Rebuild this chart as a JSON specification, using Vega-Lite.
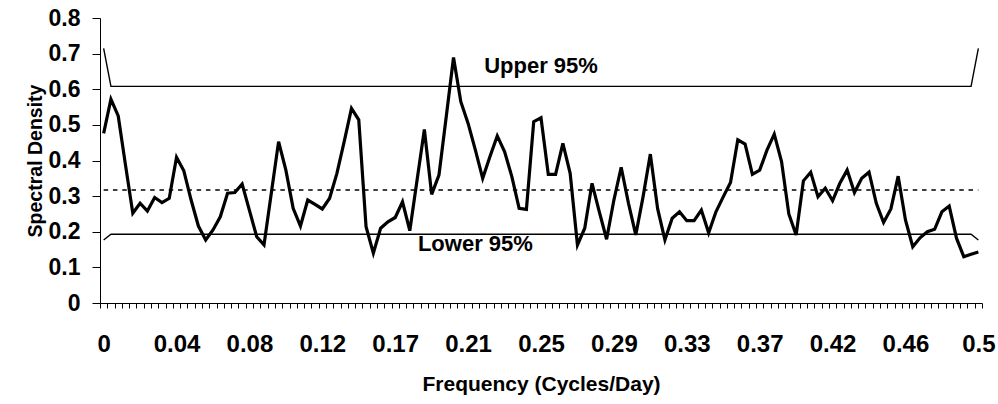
{
  "$schema": "https://vega.github.io/schema/vega-lite/v6.json",
  "width": 882,
  "height": 285,
  "autosize": "none",
  "padding": {"left": 100, "top": 18, "right": 16, "bottom": 101},
  "background": "white",
  "config": {
    "view": {"stroke": null},
    "font": "Liberation Sans"
  },
  "datasets": {
    "spec": [
      {"f": 0, "s": 0.476, "u": 0.715, "l": 0.177, "m": 0.317},
      {"f": 0.00417, "s": 0.572, "u": 0.608, "l": 0.193, "m": 0.317},
      {"f": 0.00833, "s": 0.525, "u": 0.608, "l": 0.193, "m": 0.317},
      {"f": 0.0125, "s": 0.387, "u": 0.608, "l": 0.193, "m": 0.317},
      {"f": 0.01667, "s": 0.252, "u": 0.608, "l": 0.193, "m": 0.317},
      {"f": 0.02083, "s": 0.28, "u": 0.608, "l": 0.193, "m": 0.317},
      {"f": 0.025, "s": 0.258, "u": 0.608, "l": 0.193, "m": 0.317},
      {"f": 0.02917, "s": 0.296, "u": 0.608, "l": 0.193, "m": 0.317},
      {"f": 0.03333, "s": 0.282, "u": 0.608, "l": 0.193, "m": 0.317},
      {"f": 0.0375, "s": 0.294, "u": 0.608, "l": 0.193, "m": 0.317},
      {"f": 0.04167, "s": 0.409, "u": 0.608, "l": 0.193, "m": 0.317},
      {"f": 0.04583, "s": 0.371, "u": 0.608, "l": 0.193, "m": 0.317},
      {"f": 0.05, "s": 0.289, "u": 0.608, "l": 0.193, "m": 0.317},
      {"f": 0.05417, "s": 0.216, "u": 0.608, "l": 0.193, "m": 0.317},
      {"f": 0.05833, "s": 0.177, "u": 0.608, "l": 0.193, "m": 0.317},
      {"f": 0.0625, "s": 0.205, "u": 0.608, "l": 0.193, "m": 0.317},
      {"f": 0.06667, "s": 0.242, "u": 0.608, "l": 0.193, "m": 0.317},
      {"f": 0.07083, "s": 0.308, "u": 0.608, "l": 0.193, "m": 0.317},
      {"f": 0.075, "s": 0.31, "u": 0.608, "l": 0.193, "m": 0.317},
      {"f": 0.07917, "s": 0.334, "u": 0.608, "l": 0.193, "m": 0.317},
      {"f": 0.08333, "s": 0.26, "u": 0.608, "l": 0.193, "m": 0.317},
      {"f": 0.0875, "s": 0.186, "u": 0.608, "l": 0.193, "m": 0.317},
      {"f": 0.09167, "s": 0.163, "u": 0.608, "l": 0.193, "m": 0.317},
      {"f": 0.09583, "s": 0.308, "u": 0.608, "l": 0.193, "m": 0.317},
      {"f": 0.1, "s": 0.453, "u": 0.608, "l": 0.193, "m": 0.317},
      {"f": 0.10417, "s": 0.373, "u": 0.608, "l": 0.193, "m": 0.317},
      {"f": 0.10833, "s": 0.266, "u": 0.608, "l": 0.193, "m": 0.317},
      {"f": 0.1125, "s": 0.216, "u": 0.608, "l": 0.193, "m": 0.317},
      {"f": 0.11667, "s": 0.289, "u": 0.608, "l": 0.193, "m": 0.317},
      {"f": 0.12083, "s": 0.277, "u": 0.608, "l": 0.193, "m": 0.317},
      {"f": 0.125, "s": 0.264, "u": 0.608, "l": 0.193, "m": 0.317},
      {"f": 0.12917, "s": 0.294, "u": 0.608, "l": 0.193, "m": 0.317},
      {"f": 0.13333, "s": 0.364, "u": 0.608, "l": 0.193, "m": 0.317},
      {"f": 0.1375, "s": 0.453, "u": 0.608, "l": 0.193, "m": 0.317},
      {"f": 0.14167, "s": 0.546, "u": 0.608, "l": 0.193, "m": 0.317},
      {"f": 0.14583, "s": 0.514, "u": 0.608, "l": 0.193, "m": 0.317},
      {"f": 0.15, "s": 0.214, "u": 0.608, "l": 0.193, "m": 0.317},
      {"f": 0.15417, "s": 0.14, "u": 0.608, "l": 0.193, "m": 0.317},
      {"f": 0.15833, "s": 0.21, "u": 0.608, "l": 0.193, "m": 0.317},
      {"f": 0.1625, "s": 0.228, "u": 0.608, "l": 0.193, "m": 0.317},
      {"f": 0.16667, "s": 0.24, "u": 0.608, "l": 0.193, "m": 0.317},
      {"f": 0.17083, "s": 0.284, "u": 0.608, "l": 0.193, "m": 0.317},
      {"f": 0.175, "s": 0.203, "u": 0.608, "l": 0.193, "m": 0.317},
      {"f": 0.17917, "s": 0.345, "u": 0.608, "l": 0.193, "m": 0.317},
      {"f": 0.18333, "s": 0.487, "u": 0.608, "l": 0.193, "m": 0.317},
      {"f": 0.1875, "s": 0.305, "u": 0.608, "l": 0.193, "m": 0.317},
      {"f": 0.19167, "s": 0.359, "u": 0.608, "l": 0.193, "m": 0.317},
      {"f": 0.19583, "s": 0.523, "u": 0.608, "l": 0.193, "m": 0.317},
      {"f": 0.2, "s": 0.689, "u": 0.608, "l": 0.193, "m": 0.317},
      {"f": 0.20417, "s": 0.565, "u": 0.608, "l": 0.193, "m": 0.317},
      {"f": 0.20833, "s": 0.504, "u": 0.608, "l": 0.193, "m": 0.317},
      {"f": 0.2125, "s": 0.429, "u": 0.608, "l": 0.193, "m": 0.317},
      {"f": 0.21667, "s": 0.35, "u": 0.608, "l": 0.193, "m": 0.317},
      {"f": 0.22083, "s": 0.411, "u": 0.608, "l": 0.193, "m": 0.317},
      {"f": 0.225, "s": 0.469, "u": 0.608, "l": 0.193, "m": 0.317},
      {"f": 0.22917, "s": 0.425, "u": 0.608, "l": 0.193, "m": 0.317},
      {"f": 0.23333, "s": 0.355, "u": 0.608, "l": 0.193, "m": 0.317},
      {"f": 0.2375, "s": 0.266, "u": 0.608, "l": 0.193, "m": 0.317},
      {"f": 0.24167, "s": 0.263, "u": 0.608, "l": 0.193, "m": 0.317},
      {"f": 0.24583, "s": 0.509, "u": 0.608, "l": 0.193, "m": 0.317},
      {"f": 0.25, "s": 0.52, "u": 0.608, "l": 0.193, "m": 0.317},
      {"f": 0.25417, "s": 0.361, "u": 0.608, "l": 0.193, "m": 0.317},
      {"f": 0.25833, "s": 0.361, "u": 0.608, "l": 0.193, "m": 0.317},
      {"f": 0.2625, "s": 0.448, "u": 0.608, "l": 0.193, "m": 0.317},
      {"f": 0.26667, "s": 0.364, "u": 0.608, "l": 0.193, "m": 0.317},
      {"f": 0.27083, "s": 0.163, "u": 0.608, "l": 0.193, "m": 0.317},
      {"f": 0.275, "s": 0.21, "u": 0.608, "l": 0.193, "m": 0.317},
      {"f": 0.27917, "s": 0.336, "u": 0.608, "l": 0.193, "m": 0.317},
      {"f": 0.28333, "s": 0.256, "u": 0.608, "l": 0.193, "m": 0.317},
      {"f": 0.2875, "s": 0.179, "u": 0.608, "l": 0.193, "m": 0.317},
      {"f": 0.29167, "s": 0.289, "u": 0.608, "l": 0.193, "m": 0.317},
      {"f": 0.29583, "s": 0.381, "u": 0.608, "l": 0.193, "m": 0.317},
      {"f": 0.3, "s": 0.28, "u": 0.608, "l": 0.193, "m": 0.317},
      {"f": 0.30417, "s": 0.191, "u": 0.608, "l": 0.193, "m": 0.317},
      {"f": 0.30833, "s": 0.298, "u": 0.608, "l": 0.193, "m": 0.317},
      {"f": 0.3125, "s": 0.418, "u": 0.608, "l": 0.193, "m": 0.317},
      {"f": 0.31667, "s": 0.265, "u": 0.608, "l": 0.193, "m": 0.317},
      {"f": 0.32083, "s": 0.177, "u": 0.608, "l": 0.193, "m": 0.317},
      {"f": 0.325, "s": 0.238, "u": 0.608, "l": 0.193, "m": 0.317},
      {"f": 0.32917, "s": 0.256, "u": 0.608, "l": 0.193, "m": 0.317},
      {"f": 0.33333, "s": 0.231, "u": 0.608, "l": 0.193, "m": 0.317},
      {"f": 0.3375, "s": 0.231, "u": 0.608, "l": 0.193, "m": 0.317},
      {"f": 0.34167, "s": 0.261, "u": 0.608, "l": 0.193, "m": 0.317},
      {"f": 0.34583, "s": 0.197, "u": 0.608, "l": 0.193, "m": 0.317},
      {"f": 0.35, "s": 0.256, "u": 0.608, "l": 0.193, "m": 0.317},
      {"f": 0.35417, "s": 0.298, "u": 0.608, "l": 0.193, "m": 0.317},
      {"f": 0.35833, "s": 0.338, "u": 0.608, "l": 0.193, "m": 0.317},
      {"f": 0.3625, "s": 0.458, "u": 0.608, "l": 0.193, "m": 0.317},
      {"f": 0.36667, "s": 0.446, "u": 0.608, "l": 0.193, "m": 0.317},
      {"f": 0.37083, "s": 0.361, "u": 0.608, "l": 0.193, "m": 0.317},
      {"f": 0.375, "s": 0.373, "u": 0.608, "l": 0.193, "m": 0.317},
      {"f": 0.37917, "s": 0.429, "u": 0.608, "l": 0.193, "m": 0.317},
      {"f": 0.38333, "s": 0.474, "u": 0.608, "l": 0.193, "m": 0.317},
      {"f": 0.3875, "s": 0.397, "u": 0.608, "l": 0.193, "m": 0.317},
      {"f": 0.39167, "s": 0.25, "u": 0.608, "l": 0.193, "m": 0.317},
      {"f": 0.39583, "s": 0.191, "u": 0.608, "l": 0.193, "m": 0.317},
      {"f": 0.4, "s": 0.343, "u": 0.608, "l": 0.193, "m": 0.317},
      {"f": 0.40417, "s": 0.367, "u": 0.608, "l": 0.193, "m": 0.317},
      {"f": 0.40833, "s": 0.298, "u": 0.608, "l": 0.193, "m": 0.317},
      {"f": 0.4125, "s": 0.322, "u": 0.608, "l": 0.193, "m": 0.317},
      {"f": 0.41667, "s": 0.287, "u": 0.608, "l": 0.193, "m": 0.317},
      {"f": 0.42083, "s": 0.336, "u": 0.608, "l": 0.193, "m": 0.317},
      {"f": 0.425, "s": 0.373, "u": 0.608, "l": 0.193, "m": 0.317},
      {"f": 0.42917, "s": 0.31, "u": 0.608, "l": 0.193, "m": 0.317},
      {"f": 0.43333, "s": 0.35, "u": 0.608, "l": 0.193, "m": 0.317},
      {"f": 0.4375, "s": 0.367, "u": 0.608, "l": 0.193, "m": 0.317},
      {"f": 0.44167, "s": 0.28, "u": 0.608, "l": 0.193, "m": 0.317},
      {"f": 0.44583, "s": 0.226, "u": 0.608, "l": 0.193, "m": 0.317},
      {"f": 0.45, "s": 0.264, "u": 0.608, "l": 0.193, "m": 0.317},
      {"f": 0.45417, "s": 0.356, "u": 0.608, "l": 0.193, "m": 0.317},
      {"f": 0.45833, "s": 0.233, "u": 0.608, "l": 0.193, "m": 0.317},
      {"f": 0.4625, "s": 0.158, "u": 0.608, "l": 0.193, "m": 0.317},
      {"f": 0.46667, "s": 0.183, "u": 0.608, "l": 0.193, "m": 0.317},
      {"f": 0.47083, "s": 0.2, "u": 0.608, "l": 0.193, "m": 0.317},
      {"f": 0.475, "s": 0.207, "u": 0.608, "l": 0.193, "m": 0.317},
      {"f": 0.47917, "s": 0.256, "u": 0.608, "l": 0.193, "m": 0.317},
      {"f": 0.48333, "s": 0.272, "u": 0.608, "l": 0.193, "m": 0.317},
      {"f": 0.4875, "s": 0.182, "u": 0.608, "l": 0.193, "m": 0.317},
      {"f": 0.49167, "s": 0.13, "u": 0.608, "l": 0.193, "m": 0.317},
      {"f": 0.49583, "s": 0.137, "u": 0.608, "l": 0.193, "m": 0.317},
      {"f": 0.5, "s": 0.143, "u": 0.715, "l": 0.177, "m": 0.317}
    ],
    "notes": [
      {"f": 0.25, "y": 0.665, "label": "Upper 95%"},
      {"f": 0.2125, "y": 0.166, "label": "Lower 95%"}
    ]
  },
  "data": {"name": "spec"},
  "encoding": {
    "x": {
      "field": "f",
      "type": "ordinal",
      "bandPosition": 0.5,
      "scale": {"type": "band", "paddingInner": 0, "paddingOuter": 0},
      "axis": {
        "title": "Frequency (Cycles/Day)",
        "tickBand": "extent",
        "labelExpr": "round(datum.value*240) % 10 == 0 ? format(datum.value - 0.00001, '.2~f') : ''",
        "labelAngle": 0,
        "labelOverlap": false,
        "labelBound": false,
        "labelFont": "Liberation Sans",
        "labelFontSize": 24,
        "labelFontWeight": "bold",
        "labelColor": "black",
        "labelBaseline": "alphabetic",
        "labelPadding": 43,
        "tickSize": 5,
        "tickColor": "black",
        "tickWidth": 1,
        "domainColor": "black",
        "domainWidth": 1,
        "grid": false,
        "titleFont": "Liberation Sans",
        "titleFontSize": 21,
        "titleFontWeight": "bold",
        "titleColor": "black",
        "titleX": 441,
        "titleY": 87,
        "titleAlign": "center",
        "titleBaseline": "alphabetic"
      }
    },
    "y": {
      "type": "quantitative",
      "scale": {"domain": [0, 0.8], "nice": false, "zero": true},
      "axis": {
        "title": "Spectral Density",
        "values": [0, 0.1, 0.2, 0.3, 0.4, 0.5, 0.6, 0.7, 0.8],
        "format": ".1~f",
        "grid": false,
        "labelFont": "Liberation Sans",
        "labelFontSize": 23,
        "labelFontWeight": "bold",
        "labelColor": "black",
        "labelPadding": 12,
        "tickSize": 8,
        "tickColor": "black",
        "domainColor": "black",
        "titleFont": "Liberation Sans",
        "titleFontSize": 19.5,
        "titleFontWeight": "bold",
        "titleColor": "black",
        "titleX": -65,
        "titleY": 142.5,
        "titleAngle": -90,
        "titleAlign": "center",
        "titleBaseline": "middle"
      }
    }
  },
  "layer": [
    {"mark": {"type": "line", "color": "black", "strokeWidth": 1.4}, "encoding": {"y": {"field": "u", "type": "quantitative"}}},
    {"mark": {"type": "line", "color": "black", "strokeWidth": 1.4}, "encoding": {"y": {"field": "l", "type": "quantitative"}}},
    {"mark": {"type": "line", "color": "black", "strokeWidth": 1.5, "strokeDash": [4.5, 4.8]}, "encoding": {"y": {"field": "m", "type": "quantitative"}}},
    {"mark": {"type": "line", "color": "black", "strokeWidth": 3.2, "strokeJoin": "miter"}, "encoding": {"y": {"field": "s", "type": "quantitative"}}},
    {
      "data": {"name": "notes"},
      "mark": {"type": "text", "font": "Liberation Sans", "fontSize": 22, "fontWeight": "bold", "color": "black", "align": "center", "baseline": "middle"},
      "encoding": {
        "y": {"field": "y", "type": "quantitative"},
        "text": {"field": "label"}
      }
    }
  ]
}
